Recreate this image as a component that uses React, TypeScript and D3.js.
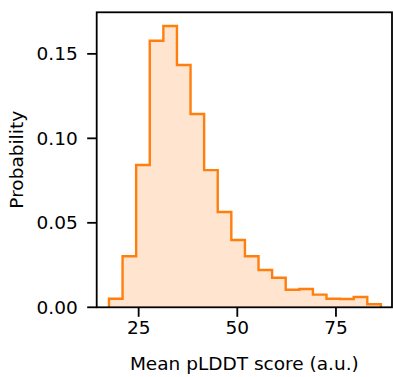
import React from "react";
import * as d3 from "d3";

const binStart = 17.48;
const binWidth = 3.445;
const probabilities = [
  0.0051, 0.0302, 0.0842, 0.1578, 0.1665, 0.1434, 0.1144, 0.0812, 0.0564, 0.0398,
  0.0302, 0.0221, 0.0175, 0.0104, 0.0108, 0.0075, 0.0051, 0.0049, 0.0061, 0.0018,
];
const xTicks = [25, 50, 75];
const yTicks = [0, 0.05, 0.1, 0.15];
const xLabel = "Mean pLDDT score (a.u.)";
const yLabel = "Probability";

export default function App() {
  const W = 393, H = 377;
  const left = 96.7, right = 392, top = 12.3, bottom = 307.3;
  const x = d3.scaleLinear().domain([14.37, 89.2]).range([left, right]);
  const y = d3.scaleLinear().domain([0, 0.1746]).range([bottom, top]);

  const pts: [number, number][] = [];
  pts.push([binStart, 0]);
  probabilities.forEach((p, i) => {
    const x0 = binStart + i * binWidth;
    pts.push([x0, p]);
    pts.push([x0 + binWidth, p]);
  });
  pts.push([binStart + probabilities.length * binWidth, 0]);
  const line = d3.line<[number, number]>().x(d => x(d[0])).y(d => y(d[1]));
  const path = line(pts) || "";
  const font = "DejaVu Sans";
  const fs = 18.5;

  return (
    <svg width={W} height={H} style={{ position: "absolute", left: 0, top: 0 }} fontFamily={font}>
      <path d={path + "Z"} fill="#ffe5cf" stroke="none" />
      <path d={path} fill="none" stroke="#ff7f0e" strokeWidth={2.4} strokeLinejoin="miter" />
      <rect x={left} y={top} width={right - left} height={bottom - top} fill="none" stroke="#000" strokeWidth={1.8} />
      {xTicks.map(t => (
        <g key={t}>
          <line x1={x(t)} x2={x(t)} y1={bottom} y2={bottom + 9.5} stroke="#000" strokeWidth={1.8} />
          <text x={x(t)} y={bottom + 27} fontSize={fs} textAnchor="middle" fill="#000">{t}</text>
        </g>
      ))}
      {yTicks.map(t => (
        <g key={t}>
          <line x1={left - 9.5} x2={left} y1={y(t)} y2={y(t)} stroke="#000" strokeWidth={1.8} />
          <text x={left - 19} y={y(t)} dy="0.35em" fontSize={fs} textAnchor="end" fill="#000">{t.toFixed(2)}</text>
        </g>
      ))}
      <text x={(left + right) / 2} y={370} fontSize={fs} textAnchor="middle" fill="#000">{xLabel}</text>
      <text transform={`translate(23,${(top + bottom) / 2}) rotate(-90)`} fontSize={fs} textAnchor="middle" fill="#000">{yLabel}</text>
    </svg>
  );
}
